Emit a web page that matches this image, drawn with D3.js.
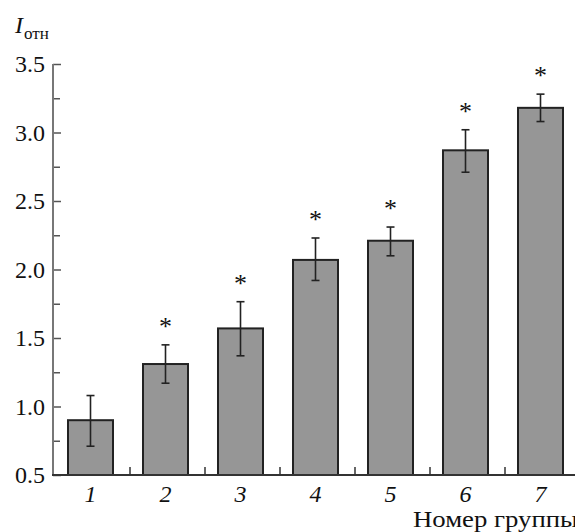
<!DOCTYPE html>
<html><head><meta charset="utf-8">
<script src="https://cdn.jsdelivr.net/npm/d3@7"></script>
<style>body{margin:0;background:#fff}svg{display:block}</style>
</head><body>
<svg id="c" width="575" height="532"></svg>
<script>
const groups = ["1","2","3","4","5","6","7"];
const values = [0.90, 1.31, 1.57, 2.07, 2.21, 2.87, 3.18];
const errLow = [0.71, 1.17, 1.37, 1.92, 2.10, 2.71, 3.08];
const errHigh = [1.08, 1.45, 1.765, 2.23, 2.31, 3.02, 3.28];
const significant = [false, true, true, true, true, true, true];
const yTicks = [0.5, 1.0, 1.5, 2.0, 2.5, 3.0, 3.5];
const yMinorTicks = [0.75, 1.25, 1.75, 2.25, 2.75, 3.25];

const svg = d3.select("#c");
const x = d3.scaleBand().domain(groups).range([53, 578]).paddingInner(0.4).paddingOuter(0.2);
const y = d3.scaleLinear().domain([0.5, 3.5]).range([475, 64]);
const serif = "'Liberation Serif','Times New Roman','DejaVu Serif',serif";

// bars
svg.selectAll("rect.bar").data(groups).enter().append("rect")
  .attr("x", d => x(d)).attr("width", x.bandwidth())
  .attr("y", (d,i) => y(values[i])).attr("height", (d,i) => y(0.5) - y(values[i]))
  .attr("fill", "#969696").attr("stroke", "#222").attr("stroke-width", 2);

// error bars
const eb = svg.selectAll("g.eb").data(groups).enter().append("g")
  .attr("stroke", "#222").attr("stroke-width", 1.6);
eb.append("line").attr("x1", d => x(d)+x.bandwidth()/2).attr("x2", d => x(d)+x.bandwidth()/2)
  .attr("y1", (d,i) => y(errLow[i])).attr("y2", (d,i) => y(errHigh[i]));
eb.append("line").attr("x1", d => x(d)+x.bandwidth()/2-4).attr("x2", d => x(d)+x.bandwidth()/2+4)
  .attr("y1", (d,i) => y(errLow[i])).attr("y2", (d,i) => y(errLow[i]));
eb.append("line").attr("x1", d => x(d)+x.bandwidth()/2-4).attr("x2", d => x(d)+x.bandwidth()/2+4)
  .attr("y1", (d,i) => y(errHigh[i])).attr("y2", (d,i) => y(errHigh[i]));

// stars
svg.selectAll("text.star").data(groups.filter((d,i)=>significant[i])).enter().append("text")
  .attr("x", d => x(d)+x.bandwidth()/2)
  .attr("y", d => y(errHigh[groups.indexOf(d)]) - 10)
  .attr("text-anchor","middle").attr("font-family", serif).attr("font-size", 26)
  .attr("fill","#111").text("*");

// y axis
const yAxis = d3.axisRight(y).tickValues(yTicks).tickSize(8).tickFormat("");
const gy = svg.append("g").attr("transform","translate(53,0)").call(yAxis);
gy.select(".domain").remove();
gy.selectAll("line").attr("stroke","#555").attr("stroke-width",1.5);
const gym = svg.append("g").attr("transform","translate(53,0)")
  .call(d3.axisRight(y).tickValues(yMinorTicks).tickSize(7).tickFormat(""));
gym.select(".domain").remove();
gym.selectAll("line").attr("stroke","#555").attr("stroke-width",1.5);
svg.append("line").attr("x1",53).attr("x2",53).attr("y1",y(3.5)).attr("y2",y(0.5)+1)
  .attr("stroke","#777").attr("stroke-width",2);
svg.selectAll("text.yl").data(yTicks).enter().append("text")
  .attr("x", 45).attr("y", d => y(d)+8).attr("text-anchor","end")
  .attr("font-family", serif).attr("font-size", 24).attr("fill","#111")
  .text(d => d.toFixed(1));

// x axis
svg.append("line").attr("x1",52).attr("x2",575).attr("y1",y(0.5)).attr("y2",y(0.5))
  .attr("stroke","#333").attr("stroke-width",2);
const xTickPos = groups.slice(1).map(d => x(d) - x.step()*x.paddingInner()/2 + 2);
svg.selectAll("line.xt").data(xTickPos).enter().append("line")
  .attr("x1", d=>d).attr("x2", d=>d).attr("y1", y(0.5)).attr("y2", y(0.5)-8)
  .attr("stroke","#333").attr("stroke-width",1.5);
svg.selectAll("text.xl").data(groups).enter().append("text")
  .attr("x", d => x(d)+x.bandwidth()/2).attr("y", 502)
  .attr("text-anchor","middle").attr("font-family", serif).attr("font-style","italic")
  .attr("font-size", 24).attr("fill","#111").text(d => d);

// axis titles
svg.append("text").attr("x", 413).attr("y", 527).attr("font-family", serif)
  .attr("font-size", 23).attr("fill","#111")
  .attr("textLength", 165).attr("lengthAdjust","spacingAndGlyphs").text("Номер группы");
const yt = svg.append("text").attr("x", 15).attr("y", 33).attr("font-family", serif).attr("fill","#111");
yt.append("tspan").attr("font-style","italic").attr("font-size", 24).text("I");
yt.append("tspan").attr("font-size", 17).attr("dx", 1).attr("dy", 6).text("отн");
</script>
</body></html>
